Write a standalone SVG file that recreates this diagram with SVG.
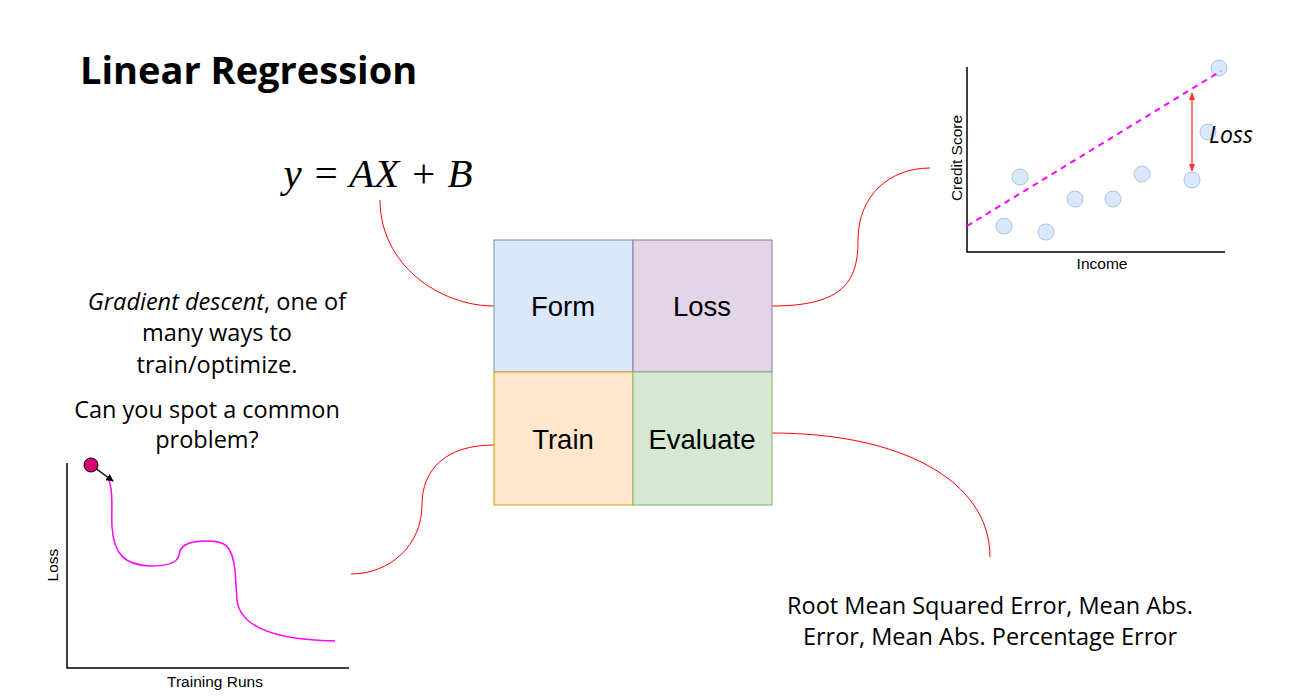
<svg xmlns="http://www.w3.org/2000/svg" width="1300" height="697" viewBox="0 0 1300 697">
<style>
.lbl{font-family:"Liberation Sans",Arial,sans-serif;font-size:27.5px;fill:#000;text-anchor:middle}
.ax{stroke:#000;stroke-width:1.5;fill:none}
.axt{font-family:"Liberation Sans",Arial,sans-serif;font-size:15.5px;fill:#000;text-anchor:middle}
.txt{font-family:"Open Sans","Noto Sans",sans-serif;font-size:23.5px;fill:#000;text-anchor:middle}
.pt{fill:#dae8fc;stroke:#a9c4eb;stroke-width:1}
.con{fill:none;stroke:#ff0000;stroke-width:1}
</style>
<defs>
<marker id="ra" viewBox="0 0 10 10" refX="9" refY="5" markerWidth="6" markerHeight="6" orient="auto-start-reverse"><path d="M0,1 L10,5 L0,9 z" fill="#ff3333"/></marker>
<marker id="ba" viewBox="0 0 10 10" refX="9" refY="5" markerWidth="5" markerHeight="5" orient="auto"><path d="M0,0 L10,5 L0,10 z" fill="#000"/></marker>
</defs>
<rect width="1300" height="697" fill="#fff"/>
<text x="80" y="84" font-family="'Open Sans','Noto Sans',sans-serif" font-weight="bold" font-size="38" fill="#000">Linear Regression</text>
<text x="378" y="187" text-anchor="middle" font-family="'Liberation Serif','DejaVu Serif',serif" font-style="italic" font-size="41" fill="#000">y = AX + B</text>

<g id="connectors">
<path class="con" d="M380,200 C380,265 440,306 494,306"/>
<path class="con" d="M772,306 C845,306 858,280 858,240 C858,195 890,168 930,168"/>
<path class="con" d="M494,445 C445,445 422,470 422,505 C422,545 390,574 351,574"/>
<path class="con" d="M772,433 C900,433 990,480 990,557"/>
</g>

<g id="form"><rect x="494" y="240" width="139" height="132" fill="#dae8fc" stroke="#6c8ebf"/><text class="lbl" x="563" y="316">Form</text></g>
<g id="loss"><rect x="633" y="240" width="139" height="132" fill="#e1d5e7" stroke="#9673a6"/><text class="lbl" x="702" y="316">Loss</text></g>
<g id="train"><rect x="494" y="372" width="139" height="133" fill="#ffe6cc" stroke="#d79b00"/><text class="lbl" x="563" y="449">Train</text></g>
<g id="evaluate"><rect x="633" y="372" width="139" height="133" fill="#d5e8d4" stroke="#82b366"/><text class="lbl" x="702" y="449">Evaluate</text></g>

<g id="scatter">
<path class="ax" d="M967,67 L967,252 L1225,252"/>
<text class="axt" transform="translate(958,158) rotate(-90)" x="0" y="0" dominant-baseline="middle">Credit Score</text>
<text class="axt" x="1102" y="269">Income</text>
<circle class="pt" cx="1004" cy="226" r="8"/>
<circle class="pt" cx="1020" cy="177" r="8"/>
<circle class="pt" cx="1046" cy="232" r="8"/>
<circle class="pt" cx="1075" cy="199" r="8"/>
<circle class="pt" cx="1113" cy="199" r="8"/>
<circle class="pt" cx="1142" cy="174" r="8"/>
<circle class="pt" cx="1192" cy="180" r="8"/>
<circle class="pt" cx="1208" cy="132" r="8"/>
<circle class="pt" cx="1219" cy="68" r="8"/>
<path d="M967,226 L1221,71" stroke="#ff00ff" stroke-width="2" stroke-dasharray="6,5" fill="none"/>
<path d="M1192,93 L1192,171" stroke="#ff3333" stroke-width="1.3" fill="none" marker-start="url(#ra)" marker-end="url(#ra)"/>
<text x="1209" y="143" font-family="'Open Sans','Noto Sans',sans-serif" font-style="italic" font-size="23" fill="#000">Loss</text>
</g>

<g id="gradient">
<text class="txt" x="217" y="310"><tspan font-style="italic">Gradient descent</tspan>, one of</text>
<text class="txt" x="217" y="341">many ways to</text>
<text class="txt" x="217" y="373">train/optimize.</text>
<text class="txt" x="207" y="418">Can you spot a common</text>
<text class="txt" x="207" y="448">problem?</text>
</g>

<g id="losschart">
<path class="ax" d="M67,463 L67,668 L349,668"/>
<text class="axt" transform="translate(54,565) rotate(-90)" dominant-baseline="middle">Loss</text>
<text class="axt" x="215" y="687" font-size="16">Training Runs</text>
<path d="M108,478 C114,492 111,510 112,527 C114,555 125,565 150,566 C170,566 178,562 179,555 C180,547 185,541 207,541 C225,541 232,545 235,570 L237,600 C240,625 270,640 335,641" fill="none" stroke="#ff00ff" stroke-width="1.5"/>
<path d="M91,465 L113,481" stroke="#000" stroke-width="1.5" marker-end="url(#ba)"/>
<circle cx="91" cy="465" r="7" fill="#d80073" stroke="#000" stroke-width="1"/>
</g>

<g id="metrics">
<text class="txt" x="990" y="614">Root Mean Squared Error, Mean Abs.</text>
<text class="txt" x="990" y="645">Error, Mean Abs. Percentage Error</text>
</g>
</svg>
